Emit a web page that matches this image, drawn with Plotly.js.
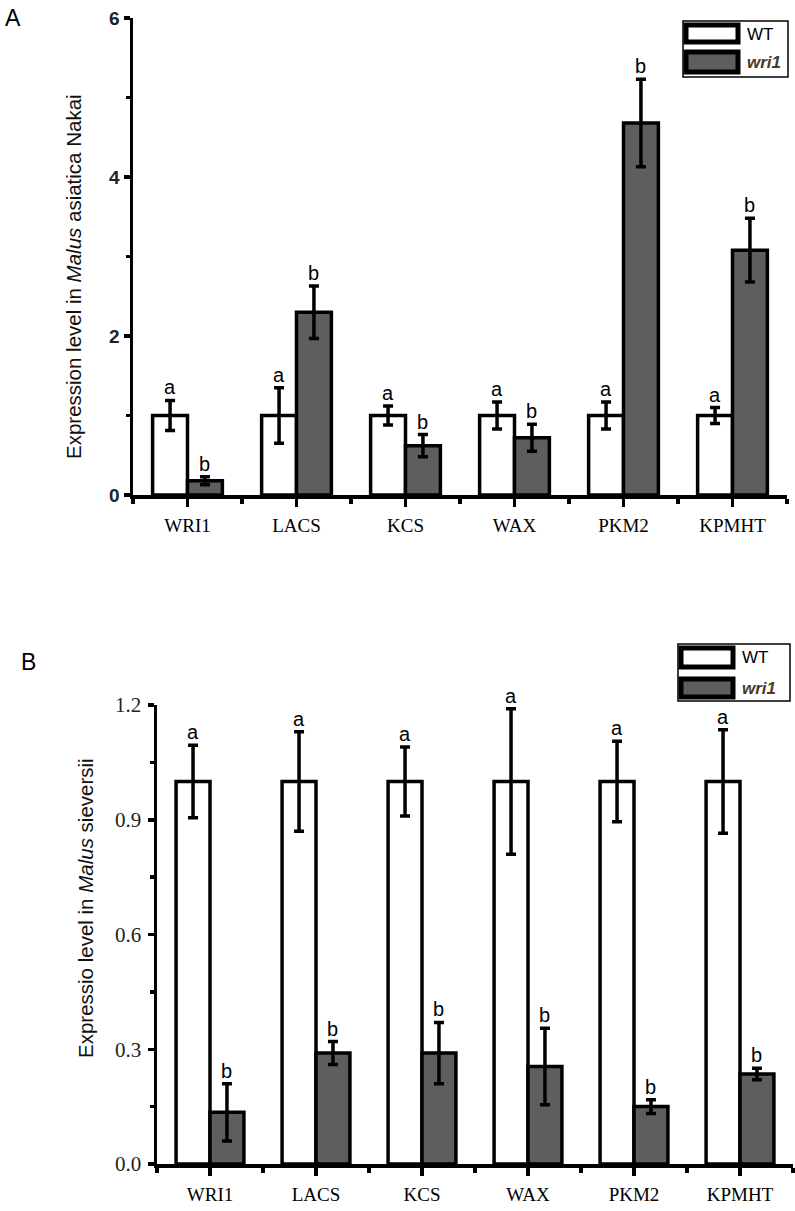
<!DOCTYPE html>
<html>
<head>
<meta charset="utf-8">
<script src="https://cdn.plot.ly/plotly-3.0.1.min.js"></script>
<style>html,body{margin:0;padding:0;background:#fff;}#chart{width:795px;height:1211px;}</style>
</head>
<body>
<div id="chart"></div>
<script>
// ---- data ----
const categories = ['WRI1', 'LACS', 'KCS', 'WAX', 'PKM2', 'KPMHT'];
const seriesNames = ['WT', 'wri1'];
const yTitleA = 'Expression level in <i>Malus</i> asiatica Nakai';
const yTitleB = 'Expressio level in <i>Malus</i> sieversii';

// Panel A: Malus asiatica Nakai
const wtA = [1.00, 1.00, 1.00, 1.00, 1.00, 1.00];
const wtAErr = [0.19, 0.35, 0.12, 0.17, 0.17, 0.10];
const wriA = [0.18, 2.30, 0.62, 0.72, 4.68, 3.08];
const wriAErr = [0.05, 0.33, 0.14, 0.17, 0.55, 0.40];
const wtALetters = ['a', 'a', 'a', 'a', 'a', 'a'];
const wriALetters = ['b', 'b', 'b', 'b', 'b', 'b'];

// Panel B: Malus sieversii
const wtB = [1.00, 1.00, 1.00, 1.00, 1.00, 1.00];
const wtBErr = [0.095, 0.13, 0.09, 0.19, 0.105, 0.135];
const wriB = [0.135, 0.29, 0.29, 0.255, 0.15, 0.235];
const wriBErr = [0.075, 0.03, 0.08, 0.10, 0.018, 0.015];
const wtBLetters = ['a', 'a', 'a', 'a', 'a', 'a'];
const wriBLetters = ['b', 'b', 'b', 'b', 'b', 'b'];

const yTicksA = [0, 2, 4, 6];
const yTickTextA = ['0', '2', '4', '6'];
const yTicksB = [0, 0.3, 0.6, 0.9, 1.2];
const yTickTextB = ['0.0', '0.3', '0.6', '0.9', '1.2'];

// ---- helpers ----
const W = 795, H = 1211;
const px = x => x / W;
const py = y => 1 - y / H;
const idx = categories.map((_, i) => i);
const GREY = '#5e5e5e';
const BARGAP = 0.36;
const half = (1 - BARGAP) / 4; // offset of each bar centre from group centre

function barTrace(y, err, color, name, xa, ya) {
  return {
    type: 'bar', x: idx, y: y, name: name, xaxis: xa, yaxis: ya,
    marker: {color: color, line: {color: '#000', width: 3.5}},
    error_y: {type: 'data', array: err, visible: true, color: '#000', thickness: 3.5, width: 5},
    showlegend: false, hoverinfo: 'skip'
  };
}

const data = [
  barTrace(wtA, wtAErr, '#fff', seriesNames[0], 'x', 'y'),
  barTrace(wriA, wriAErr, GREY, seriesNames[1], 'x', 'y'),
  barTrace(wtB, wtBErr, '#fff', seriesNames[0], 'x2', 'y2'),
  barTrace(wriB, wriBErr, GREY, seriesNames[1], 'x2', 'y2')
];

const annotations = [];
function letters(vals, errs, lets, sign, xr, yr) {
  vals.forEach((v, i) => {
    annotations.push({
      xref: xr, yref: yr, x: i + sign * half, y: v + errs[i], text: lets[i],
      showarrow: false, yanchor: 'bottom', yshift: 0,
      font: {family: 'Liberation Sans, Arial', size: 20, color: '#000'}
    });
  });
}
letters(wtA, wtAErr, wtALetters, -1, 'x', 'y');
letters(wriA, wriAErr, wriALetters, 1, 'x', 'y');
letters(wtB, wtBErr, wtBLetters, -1, 'x2', 'y2');
letters(wriB, wriBErr, wriBLetters, 1, 'x2', 'y2');

// panel labels
annotations.push({xref: 'paper', yref: 'paper', x: px(3), y: py(3), xanchor: 'left', yanchor: 'top',
  text: 'A', showarrow: false, font: {family: 'Liberation Sans, Arial', size: 23, color: '#000'}});
annotations.push({xref: 'paper', yref: 'paper', x: px(19), y: py(647), xanchor: 'left', yanchor: 'top',
  text: 'B', showarrow: false, font: {family: 'Liberation Sans, Arial', size: 23, color: '#000'}});

// y-axis titles (placed as rotated annotations to match the original offset)
annotations.push({xref: 'paper', yref: 'paper', x: px(73), y: py(277), xanchor: 'center', yanchor: 'middle',
  textangle: -90, text: yTitleA, showarrow: false, font: {family: 'Liberation Sans, Arial', size: 20.5, color: '#111'}});
annotations.push({xref: 'paper', yref: 'paper', x: px(85), y: py(908), xanchor: 'center', yanchor: 'middle',
  textangle: -90, text: yTitleB, showarrow: false, font: {family: 'Liberation Sans, Arial', size: 20.5, color: '#111'}});

// custom legends
const shapes = [];
function legend(x0, y0, x1, y1, sw1, sw2, t1y, t2y) {
  shapes.push({type: 'rect', xref: 'paper', yref: 'paper', x0: px(x0), x1: px(x1), y0: py(y0), y1: py(y1),
    line: {color: '#000', width: 1.5}, fillcolor: 'rgba(0,0,0,0)'});
  shapes.push({type: 'rect', xref: 'paper', yref: 'paper', x0: px(x0 + 3), x1: px(x0 + 55), y0: py(sw1[0]), y1: py(sw1[1]),
    line: {color: '#000', width: 5}, fillcolor: '#fff'});
  shapes.push({type: 'rect', xref: 'paper', yref: 'paper', x0: px(x0 + 3), x1: px(x0 + 55), y0: py(sw2[0]), y1: py(sw2[1]),
    line: {color: '#000', width: 5}, fillcolor: GREY});
  annotations.push({xref: 'paper', yref: 'paper', x: px(x0 + 62), y: py(t1y), xanchor: 'left', yanchor: 'middle',
    text: seriesNames[0], showarrow: false, font: {family: 'Liberation Sans, Arial', size: 17, color: '#000'}});
  annotations.push({xref: 'paper', yref: 'paper', x: px(x0 + 62), y: py(t2y), xanchor: 'left', yanchor: 'middle',
    text: '<i><b>' + seriesNames[1] + '</b></i>', showarrow: false, font: {family: 'Liberation Sans, Arial', size: 17, color: '#4a3a2a'}});
}
legend(683, 21, 788, 77, [25, 42], [52, 72], 34, 62);
legend(678, 644, 790, 701, [648, 667], [679, 697], 658, 688);

const tickSerif = {family: 'Liberation Serif, Times New Roman', size: 19, color: '#000'};
const xCommon = {
  type: 'linear', range: [-0.5, 5.5], tickmode: 'array', tickvals: idx, ticktext: categories,
  showline: true, linecolor: '#000', linewidth: 3.5, ticks: 'outside', ticklen: 8, tickwidth: 3.5, tickcolor: '#000',
  minor: {tickmode: 'linear', tick0: 0.5, dtick: 1, ticks: 'outside', ticklen: 5, tickwidth: 3.5, tickcolor: '#000'},
  showgrid: false, zeroline: false, tickfont: tickSerif, fixedrange: true, ticklabelstandoff: 3
};

const layout = {
  width: W, height: H,
  margin: {l: 0, r: 0, t: 0, b: 0},
  paper_bgcolor: '#fff', plot_bgcolor: '#fff',
  barmode: 'group', bargap: BARGAP, bargroupgap: 0,
  showlegend: false,
  xaxis: Object.assign({}, xCommon, {domain: [px(133), px(787)], anchor: 'y'}),
  yaxis: {
    domain: [py(495), py(18)], anchor: 'x', range: [0, 6], tickmode: 'array', tickvals: yTicksA,
    ticktext: yTickTextA.map(t => '<b>' + t + '</b>'),
    showline: true, linecolor: '#000', linewidth: 3.5, ticks: 'outside', ticklen: 6, tickwidth: 3.5, tickcolor: '#000',
    minor: {tickmode: 'linear', tick0: 1, dtick: 2, ticks: 'outside', ticklen: 4, tickwidth: 3.5, tickcolor: '#000'},
    showgrid: false, zeroline: false,
    tickfont: {family: 'Liberation Sans, Arial', size: 19, color: '#222'}
  },
  xaxis2: Object.assign({}, xCommon, {domain: [px(157), px(793)], anchor: 'y2'}),
  yaxis2: {
    domain: [py(1164), py(705)], anchor: 'x2', range: [0, 1.2], tickmode: 'array', tickvals: yTicksB, ticktext: yTickTextB,
    showline: true, linecolor: '#000', linewidth: 3.5, ticks: 'outside', ticklen: 6, tickwidth: 3.5, tickcolor: '#000',
    minor: {tickmode: 'linear', tick0: 0.15, dtick: 0.3, ticks: 'outside', ticklen: 4, tickwidth: 3.5, tickcolor: '#000'},
    showgrid: false, zeroline: false,
    tickfont: {family: 'Liberation Serif, Times New Roman', size: 21, color: '#222'}, ticklabelstandoff: 2
  },
  annotations: annotations,
  shapes: shapes
};

Plotly.newPlot('chart', data, layout, {staticPlot: true, displayModeBar: false});
</script>
</body>
</html>
